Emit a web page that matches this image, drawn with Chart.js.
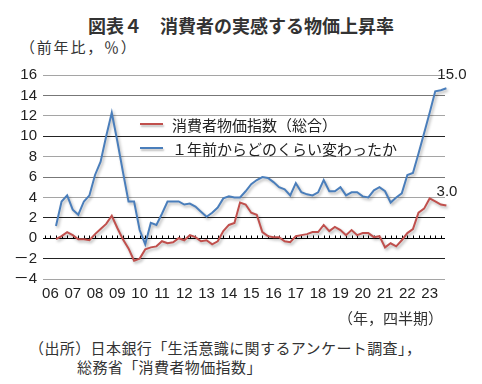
<!DOCTYPE html>
<html lang="ja">
<head>
<meta charset="utf-8">
<title>消費者の実感する物価上昇率</title>
<script src="https://cdn.jsdelivr.net/npm/chart.js@4.4.1/dist/chart.umd.min.js"></script>
<style>
  html, body { margin: 0; padding: 0; background: #fff; }
  body {
    width: 482px; height: 384px; position: relative; overflow: hidden;
    font-family: "Noto Sans CJK JP", sans-serif; color: #333;
  }
  #title {
    position: absolute; left: 0; top: 13px; width: 482px; text-align: center;
    font-size: 18px; font-weight: bold; line-height: 24px; color: #333;
  }
  #unit { position: absolute; left: 20px; top: 37px; font-size: 15px; line-height: 19px;
          letter-spacing: 1.8px; color: #333; }
  #wrap { position: absolute; left: 0; top: 60px; width: 482px; height: 250px; }
  #legend { position: absolute; left: 140px; top: 112px; font-size: 15px; color: #222; }
  #legend .row { display: flex; align-items: center; height: 24px; }
  #legend .swatch { display: inline-block; width: 23px; height: 2px; margin-right: 9px;
                    box-shadow: 1px 2px 2px rgba(0,0,0,0.25); }
  #xunit { position: absolute; right: 39px; top: 308px; font-size: 15px; line-height: 19px; color: #333; }
  #source { position: absolute; left: 29px; top: 338px; font-size: 15px; line-height: 19px;
            letter-spacing: 0.4px; color: #333; }
  #source .l2 { padding-left: 48px; }
</style>
</head>
<body>
<div id="title">図表４　消費者の実感する物価上昇率</div>
<div id="unit">（前年比，％）</div>
<div id="wrap"><canvas id="chart" width="482" height="250"></canvas></div>
<div id="legend"></div>
<div id="xunit">（年，四半期）</div>
<div id="source">
  <div>（出所）日本銀行「生活意識に関するアンケート調査」，</div>
  <div class="l2">総務省「消費者物価指数」</div>
</div>
<script>
// ---------------------------------------------------------------------------
// Data (quarterly, 2006Q1 - 2023Q4, % y/y)
// ---------------------------------------------------------------------------
const years = ['06', '07', '08', '09', '10', '11', '12', '13', '14',
               '15', '16', '17', '18', '19', '20', '21', '22', '23'];

// 消費者物価指数（総合）
const cpi = [
  -0.1, 0.2, 0.6, 0.3, -0.1, -0.1, -0.2, 0.4, 0.9, 1.4,
  2.2, 1.0, -0.1, -1.0, -2.2, -2.0, -1.1, -0.9, -0.8, -0.3,
  -0.5, -0.4, 0.0, -0.2, 0.3, 0.1, -0.3, -0.2, -0.6, -0.3,
  0.7, 1.3, 1.5, 3.5, 3.3, 2.5, 2.3, 0.6, 0.2, 0.1,
  0.1, -0.3, -0.4, 0.2, 0.3, 0.4, 0.6, 0.6, 1.3, 0.7,
  1.1, 0.8, 0.3, 0.8, 0.3, 0.5, 0.5, 0.1, 0.2, -0.9,
  -0.5, -0.8, -0.2, 0.5, 0.9, 2.5, 2.9, 3.9, 3.6, 3.3,
  3.2, 3.0
];

// １年前からどのくらい変わったか
const perceived = [
  1.2, 3.6, 4.2, 2.8, 2.3, 3.6, 4.2, 6.2, 7.5, 10.0,
  12.3, 9.5, 6.5, 3.6, 3.6, 0.8, -0.6, 1.5, 1.3, 2.4,
  3.6, 3.6, 3.6, 3.3, 3.4, 3.1, 2.6, 2.1, 2.5, 3.0,
  3.9, 4.1, 4.0, 4.0, 4.6, 5.3, 5.7, 6.0, 5.9, 5.5,
  5.0, 4.8, 4.2, 5.4, 4.5, 4.3, 4.2, 4.5, 5.7, 4.6,
  4.6, 5.0, 4.2, 4.5, 4.5, 4.1, 4.0, 4.7, 5.0, 4.6,
  3.5, 4.0, 4.4, 6.2, 6.4, 8.3, 10.3, 12.3, 14.4, 14.5,
  14.7, 15.0
];

const yTicks = [-4, -2, 0, 2, 4, 6, 8, 10, 12, 14, 16];

const quarterIdx = cpi.map((_, i) => i);

// ---------------------------------------------------------------------------
// Styling helpers
// ---------------------------------------------------------------------------
const FONT = '"Liberation Sans", "Noto Sans CJK JP", sans-serif';
Chart.defaults.font.family = FONT;

// the source image shows some gridlines darker than others
const DARK_LINES = [10, 2, -2];
function gridColor(ctx) {
  const v = ctx.tick && ctx.tick.value;
  if (v === 0) return '#000';
  if (DARK_LINES.includes(v)) return '#222';
  if (v === 14 || v === 6) return '#777';
  return '#a5a5a5';
}

// soft drop shadow under each line, like the Excel original
const lineShadow = {
  id: 'lineShadow',
  beforeDatasetDraw(chart) {
    const c = chart.ctx;
    c.save();
    c.shadowColor = 'rgba(0,0,0,0.3)';
    c.shadowBlur = 3;
    c.shadowOffsetX = 1.5;
    c.shadowOffsetY = 2;
  },
  afterDatasetDraw(chart) {
    chart.ctx.restore();
  },
};

// small quarterly tick marks sitting on the zero line
const zeroTicks = {
  id: 'zeroTicks',
  beforeDatasetsDraw(chart) {
    const { ctx, scales: { x, y } } = chart;
    const y0 = Math.round(y.getPixelForValue(0)) + 0.5;
    ctx.save();
    ctx.strokeStyle = '#000';
    ctx.lineWidth = 1;
    ctx.beginPath();
    for (let i = Math.ceil(x.min); i <= Math.floor(x.max); i++) {
      const px = Math.round(x.getPixelForValue(i)) + 0.5;
      ctx.moveTo(px, y0 - 3);
      ctx.lineTo(px, y0);
    }
    ctx.stroke();
    ctx.restore();
  },
};

// value label at the end of each series (15.0 / 3.0)
const endLabels = {
  id: 'endLabels',
  afterDatasetsDraw(chart) {
    const ctx = chart.ctx;
    ctx.save();
    ctx.font = '15px ' + FONT;
    ctx.fillStyle = '#222';
    ctx.textAlign = 'center';
    ctx.textBaseline = 'middle';
    chart.data.datasets.forEach((ds, di) => {
      const meta = chart.getDatasetMeta(di);
      const pt = meta.data[meta.data.length - 1];
      const v = ds.data[ds.data.length - 1];
      const off = ds.endLabelOffset;
      ctx.fillText(v.toFixed(1), pt.x + off[0], pt.y + off[1]);
    });
    ctx.restore();
  },
};

// ---------------------------------------------------------------------------
// Chart
// ---------------------------------------------------------------------------
const chart = new Chart(document.getElementById('chart'), {
  type: 'line',
  data: {
    labels: quarterIdx,
    datasets: [
      {
        label: '消費者物価指数（総合）',
        data: cpi,
        borderColor: '#c0504d',
        borderWidth: 2,
        pointRadius: 0,
        tension: 0,
        clip: false,
        endLabelOffset: [-5, -16],
      },
      {
        label: '１年前からどのくらい変わったか',
        data: perceived,
        borderColor: '#4a7ebb',
        borderWidth: 2,
        pointRadius: 0,
        tension: 0,
        clip: false,
        endLabelOffset: [0, -10],
      },
    ],
  },
  options: {
    responsive: false,
    animation: false,
    devicePixelRatio: 1,
    layout: { padding: { top: 13, right: 37, left: 0, bottom: 0 } },
    plugins: {
      legend: { display: false },
      tooltip: { enabled: false },
    },
    scales: {
      x: {
        type: 'linear',
        min: -2.33,
        max: 69.75,
        grid: { display: false },
        border: { display: false },
        afterBuildTicks(scale) {
          scale.ticks = years.map((_, k) => ({ value: k * 4 - 1 }));
        },
        afterFit(scale) { scale.height = 31; },
        ticks: {
          autoSkip: false,
          maxRotation: 0,
          padding: -2,
          color: '#222',
          font: { size: 15 },
          callback: (value, index) => years[index],
        },
      },
      y: {
        min: -4,
        max: 16,
        grid: { color: gridColor, lineWidth: 1, drawTicks: false },
        border: { display: false },
        afterBuildTicks(scale) {
          scale.ticks = yTicks.map(v => ({ value: v }));
        },
        afterFit(scale) { scale.width = 43; },
        ticks: {
          autoSkip: false,
          padding: 6,
          color: '#222',
          font: { size: 15 },
          callback: v => (v < 0 ? '－' + Math.abs(v) : String(v)),
        },
      },
    },
  },
  plugins: [zeroTicks, lineShadow, endLabels],
});

// HTML legend built from the datasets
const legendEl = document.getElementById('legend');
chart.data.datasets.forEach(ds => {
  const row = document.createElement('div');
  row.className = 'row';
  const sw = document.createElement('span');
  sw.className = 'swatch';
  sw.style.background = ds.borderColor;
  const tx = document.createElement('span');
  tx.textContent = ds.label;
  row.appendChild(sw);
  row.appendChild(tx);
  legendEl.appendChild(row);
});
</script>
</body>
</html>
